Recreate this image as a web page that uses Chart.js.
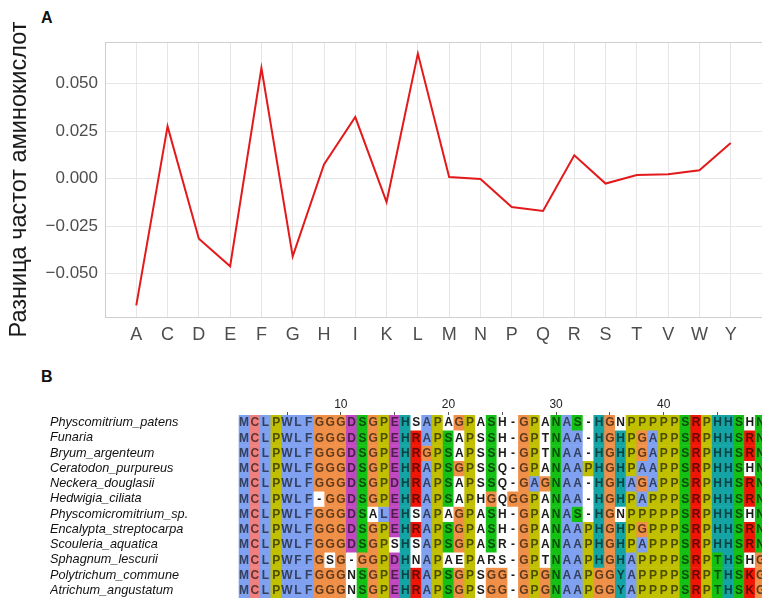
<!DOCTYPE html>
<html>
<head>
<meta charset="utf-8">
<script src="https://cdn.jsdelivr.net/npm/chart.js@4.4.1/dist/chart.umd.min.js"></script>
<style>
  html, body { margin: 0; padding: 0; background: #fff; overflow: hidden; width: 762px; height: 599px; }
  .panel { position: absolute; font: bold 16px "Liberation Sans", Arial, sans-serif; color: #111; }
  #chartA { position: absolute; left: 0; top: 0; }
  #chartB { position: absolute; left: 0; top: 393px; }
</style>
</head>
<body>
<div class="panel" style="left:41px; top:9px;">A</div>
<div class="panel" style="left:41px; top:368px;">B</div>
<canvas id="chartA" width="762" height="365"></canvas>
<canvas id="chartB" width="766" height="206"></canvas>
<script>
// panel A: amino acid frequency difference
const aminoAcids = ["A", "C", "D", "E", "F", "G", "H", "I", "K", "L", "M", "N", "P", "Q", "R", "S", "T", "V", "W", "Y"];
const freqDiff = [-0.0667, 0.0275, -0.0316, -0.0461, 0.0582, -0.0409, 0.0075, 0.0324, -0.0123, 0.0658,
                  0.0009, -0.0002, -0.0149, -0.0170, 0.0123, -0.0026, 0.0019, 0.0023, 0.0044, 0.0187];
const yTicks = [-0.05, -0.025, 0, 0.025, 0.05];

// panel B: alignment
const species = [
    "Physcomitrium_patens", "Funaria", "Bryum_argenteum", "Ceratodon_purpureus",
    "Neckera_douglasii", "Hedwigia_ciliata", "Physcomicromitrium_sp.", "Encalypta_streptocarpa",
    "Scouleria_aquatica", "Sphagnum_lescurii", "Polytrichum_commune", "Atrichum_angustatum"
];
const sequences = [
    "MCLPWLFGGGDSGPEHSAPAGPASH-GPANAS-HGNPPPPPSRPHHSHN",
    "MCLPWLFGGGDSGPEHRAPSAPSSH-GPTNAA-HGHPGAPPSRPHHSRN",
    "MCLPWLFGGGDSGPEHRGPSAPSSH-GPTNAA-HGHPGAPPSRPHHSRN",
    "MCLPWLFGGGDSGPEHRAPSGPSSQ-GPANAAPHGHPAAPPSRPHHSHN",
    "MCLPWLFGGGDSGPDHRAPSAPSSQ-GAGNAA-HGHAGAPPSRPHHSRN",
    "MCLPWLF-GGDSGPEHRAPSAPHGQGGPANAA-HGHPAPPPSRPHHSRN",
    "MCLPWLFGGGDSALEHSAPAGPASH-GPANAS-HGNPPPPPSRPHHSHN",
    "MCLPWLFGGGDSGPEHRAPSGPASH-GPANAAPHGHPGPPPSRPHHSRN",
    "MCLPWLFGGGDSGPSHSAPSGPASR-GPANAAPHGHPAPPPSRPHHSRN",
    "MCLPWFFGSG-GGPDHNAPAEPARS-GPTNAAPHGHAPPPPSRPTHSHG",
    "MCLPWLFGGGNSGPEHRAPSGPSGG-GPGNAAPGGYAPPPPSRPTHSKG",
    "MCLPWLFGGGNSGPEHRAPSGPSGG-GPGNAAPGGYAPPPPSRPTHSKG"
];
const columns = sequences[0].split("").map((_, i) => String(i + 1));

const sans = "'Liberation Sans', Arial, sans-serif";

// clustal x style colours
const clustal = {
    blue: "#80a0f0", red: "#f01505", green: "#15c015", magenta: "#c048c0",
    pink: "#f08080", orange: "#f09048", cyan: "#15a4a4", yellow: "#c0c000", none: "#ffffff"
};

function colFrac(c, set) {
    let n = 0;
    sequences.forEach(s => { if (set.includes(s[c])) n++; });
    return n / sequences.length;
}

function cellColor(res, c) {
    const hyd = colFrac(c, "WLVIMAFCHP");
    if (res === "G") return clustal.orange;
    if (res === "P") return clustal.yellow;
    if (res === "C") return colFrac(c, "C") > 0.85 ? clustal.pink : (hyd > 0.6 ? clustal.blue : clustal.none);
    if ("AILMFWV".includes(res)) return hyd > 0.6 ? clustal.blue : clustal.none;
    if ("KR".includes(res)) return colFrac(c, "KR") > 0.6 ? clustal.red : clustal.none;
    if ("ED".includes(res)) return colFrac(c, "ED") > 0.5 ? clustal.magenta : clustal.none;
    if (res === "N") return colFrac(c, "N") > 0.5 ? clustal.green : clustal.none;
    if (res === "Q") return colFrac(c, "QE") > 0.5 ? clustal.green : clustal.none;
    if ("ST".includes(res)) return (colFrac(c, "ST") > 0.5 || hyd > 0.6) ? clustal.green : clustal.none;
    if ("HY".includes(res)) return hyd > 0.6 ? clustal.cyan : clustal.none;
    return clustal.none;
}

function darker(hex) {
    if (hex === clustal.none) return "#1a1a1a";
    const k = 0.4;
    const r = Math.round(parseInt(hex.substr(1, 2), 16) * k);
    const g = Math.round(parseInt(hex.substr(3, 2), 16) * k);
    const b = Math.round(parseInt(hex.substr(5, 2), 16) * k);
    return `rgb(${r},${g},${b})`;
}

// ---------- panel A ----------
const frame = {
    id: "frame",
    afterDraw(chart) {
        const a = chart.chartArea, ctx = chart.ctx;
        ctx.save();
        ctx.strokeStyle = "#cfcfcf";
        ctx.lineWidth = 1;
        ctx.strokeRect(Math.round(a.left) + 0.5, Math.round(a.top) + 0.5, a.right - a.left, Math.round(a.bottom - a.top));
        ctx.restore();
    }
};

new Chart(document.getElementById("chartA"), {
    type: "line",
    data: {
        datasets: [{
            data: freqDiff.map((v, i) => ({ x: i, y: v })),
            borderColor: "#e31a1c",
            borderWidth: 2,
            pointRadius: 0,
            tension: 0
        }]
    },
    options: {
        responsive: false,
        animation: false,
        events: [],
        layout: { padding: { top: 42, left: 0, right: 0, bottom: 0 } },
        plugins: { legend: { display: false }, tooltip: { enabled: false } },
        scales: {
            x: {
                type: "linear",
                min: -1,
                max: 20,
                afterBuildTicks: s => { s.ticks = aminoAcids.map((_, i) => ({ value: i })); },
                afterFit: s => { s.height = 48; },
                ticks: {
                    autoSkip: false,
                    maxRotation: 0,
                    padding: 7,
                    color: "#4d4d4d",
                    font: { family: sans, size: 18 },
                    callback: (v, i) => aminoAcids[i]
                },
                grid: { color: "#e6e6e6", drawTicks: false },
                border: { display: false }
            },
            y: {
                min: -0.0728,
                max: 0.0719,
                afterBuildTicks: s => { s.ticks = yTicks.map(v => ({ value: v })); },
                afterFit: s => { s.width = 105; },
                ticks: {
                    padding: 7,
                    color: "#4d4d4d",
                    font: { family: sans, size: 17 },
                    callback: v => (v < 0 ? "\u2212" : "") + Math.abs(v).toFixed(3)
                },
                grid: { color: "#e6e6e6", drawTicks: false },
                border: { display: false },
                title: {
                    display: true,
                    text: "Разница частот аминокислот",
                    color: "#1a1a1a",
                    font: { family: sans, size: 23.5 },
                    padding: { top: 5, bottom: 0 }
                }
            }
        }
    },
    plugins: [frame]
});

// ---------- panel B ----------
const residues = {
    id: "residues",
    afterDatasetsDraw(chart) {
        const ctx = chart.ctx, xs = chart.scales.x, ys = chart.scales.y;
        ctx.save();
        ctx.font = "bold 12px " + sans;
        ctx.textAlign = "center";
        ctx.textBaseline = "middle";
        sequences.forEach((seq, r) => {
            const y = ys.getPixelForValue(r + 0.5) + 0.5;
            seq.split("").forEach((ch, c) => {
                ctx.fillStyle = darker(cellColor(ch, c));
                ctx.fillText(ch, xs.getPixelForValue(c), y);
            });
        });
        ctx.restore();
    }
};

new Chart(document.getElementById("chartB"), {
    type: "bar",
    data: {
        labels: columns,
        datasets: sequences.map((seq, r) => ({
            data: columns.map(() => [r, r + 1]),
            backgroundColor: seq.split("").map((ch, c) => cellColor(ch, c)),
            borderWidth: 0,
            grouped: false,
            barPercentage: 1,
            categoryPercentage: 1
        }))
    },
    options: {
        responsive: false,
        animation: false,
        events: [],
        layout: { padding: { top: 0, left: 50, right: 0, bottom: 1 } },
        plugins: { legend: { display: false }, tooltip: { enabled: false } },
        scales: {
            x: {
                position: "top",
                afterFit: s => { s.height = 22; s.paddingLeft = 0; s.paddingRight = 0; },
                ticks: {
                    autoSkip: false,
                    maxRotation: 0,
                    padding: 0,
                    color: "#222",
                    font: { family: sans, size: 12 },
                    callback: (v, i) => ((i + 1) % 10 === 0 ? columns[i] : "")
                },
                grid: {
                    offset: false,
                    drawOnChartArea: false,
                    tickLength: 3,
                    color: c => ((c.index + 1) % 5 === 0 ? "#555" : "rgba(0,0,0,0)")
                },
                border: { display: false }
            },
            y: {
                min: 0,
                max: 12,
                reverse: true,
                afterBuildTicks: s => { s.ticks = species.map((_, i) => ({ value: i + 0.5 })); },
                afterFit: s => { s.width = 188.6; s.paddingTop = 0; s.paddingBottom = 0; },
                ticks: {
                    autoSkip: false,
                    crossAlign: "far",
                    color: "#111",
                    font: { family: sans, size: 12.7, style: "italic" },
                    callback: (v, i) => species[i]
                },
                grid: { display: false },
                border: { display: false }
            }
        }
    },
    plugins: [residues]
});
</script>
</body>
</html>
